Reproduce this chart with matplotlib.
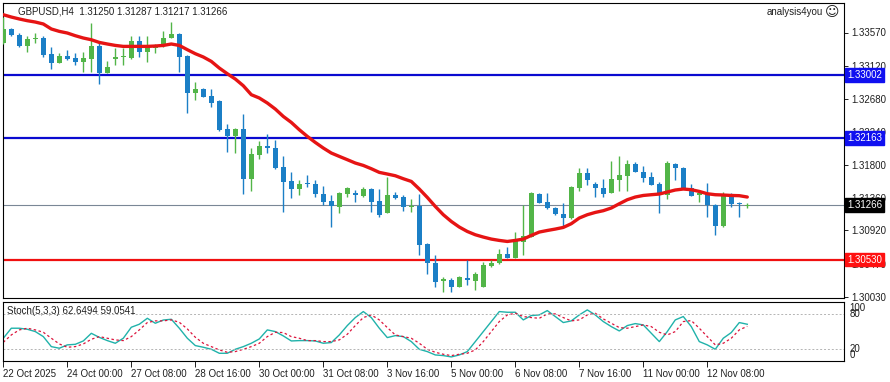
import numpy as np
import matplotlib
matplotlib.use("Agg")
import matplotlib.pyplot as plt
from matplotlib.transforms import blended_transform_factory

plt.rcParams['font.family'] = ['Liberation Sans', 'DejaVu Sans']

# GBPUSD H4 candles
opens = [1.33433, 1.33621, 1.33540, 1.33393, 1.33487, 1.33500, 1.33286, 1.33166, 1.33259, 1.33233,
         1.33179, 1.33219, 1.33393, 1.33032, 1.33219, 1.33240, 1.33233, 1.33460, 1.33313, 1.33366,
         1.33406, 1.33500, 1.33554, 1.33259, 1.32764, 1.32817, 1.32724, 1.32657, 1.32282, 1.32188,
         1.32282, 1.31612, 1.31934, 1.32054, 1.32027, 1.31773, 1.31585, 1.31478, 1.31559, 1.31545,
         1.31411, 1.31318, 1.31237, 1.31411, 1.31425, 1.31385, 1.31478, 1.31318, 1.31157, 1.31398,
         1.31371, 1.31237, 1.31251, 1.30742, 1.30487, 1.30247, 1.30260, 1.30166, 1.30287, 1.30247,
         1.30166, 1.30447, 1.30487, 1.30608, 1.30554, 1.30768, 1.30835, 1.31411, 1.31304, 1.31224,
         1.31144, 1.31090, 1.31492, 1.31693, 1.31545, 1.31492, 1.31425, 1.31599, 1.31652, 1.31813,
         1.31706, 1.31639, 1.31545, 1.31398, 1.31813, 1.31759, 1.31492, 1.31398, 1.31411, 1.31264,
         1.30983, 1.31398, 1.31291, 1.31250]
highs = [1.33781, 1.33634, 1.33567, 1.33527, 1.33567, 1.33527, 1.33380, 1.33299, 1.33339, 1.33299,
         1.33313, 1.33701, 1.33433, 1.33192, 1.33366, 1.33366, 1.33527, 1.33527, 1.33527, 1.33420,
         1.33594, 1.33714, 1.33560, 1.33265, 1.32911, 1.32822, 1.32817, 1.32662, 1.32349, 1.32288,
         1.32483, 1.32027, 1.32121, 1.32215, 1.32135, 1.31920, 1.31706, 1.31599, 1.31666, 1.31599,
         1.31518, 1.31398, 1.31438, 1.31505, 1.31465, 1.31505, 1.31485, 1.31478, 1.31639, 1.31438,
         1.31398, 1.31344, 1.31411, 1.30748, 1.30595, 1.30300, 1.30287, 1.30313, 1.30528, 1.30367,
         1.30501, 1.30528, 1.30675, 1.30702, 1.30902, 1.31264, 1.31438, 1.31425, 1.31425, 1.31237,
         1.31291, 1.31518, 1.31759, 1.31759, 1.31572, 1.31612, 1.31853, 1.31920, 1.31867, 1.31840,
         1.31786, 1.31706, 1.31572, 1.31853, 1.31818, 1.31765, 1.31545, 1.31430, 1.31559, 1.31277,
         1.31438, 1.31425, 1.31304, 1.31287]
lows = [1.33420, 1.33527, 1.33380, 1.33313, 1.33433, 1.33246, 1.33085, 1.33160, 1.33206, 1.33139,
        1.33045, 1.33045, 1.32884, 1.33025, 1.33139, 1.33139, 1.33219, 1.33246, 1.33179, 1.33299,
        1.33380, 1.33495, 1.33045, 1.32496, 1.32670, 1.32705, 1.32576, 1.32255, 1.31974, 1.31960,
        1.31411, 1.31452, 1.31880, 1.31960, 1.31746, 1.31171, 1.31358, 1.31398, 1.31505, 1.31371,
        1.31264, 1.30969, 1.31157, 1.31371, 1.31304, 1.31371, 1.31171, 1.31103, 1.31150, 1.31344,
        1.31184, 1.31171, 1.30595, 1.30340, 1.30166, 1.30099, 1.30099, 1.30160, 1.30193, 1.30126,
        1.30160, 1.30434, 1.30474, 1.30550, 1.30550, 1.30595, 1.30830, 1.31285, 1.31211, 1.31130,
        1.30969, 1.31077, 1.31452, 1.31532, 1.31371, 1.31371, 1.31420, 1.31452, 1.31452, 1.31700,
        1.31572, 1.31525, 1.31157, 1.31344, 1.31599, 1.31485, 1.31380, 1.31304, 1.31103, 1.30862,
        1.30969, 1.31237, 1.31103, 1.31217]
closes = [1.33621, 1.33540, 1.33393, 1.33487, 1.33500, 1.33273, 1.33166, 1.33259, 1.33219, 1.33179,
          1.33233, 1.33393, 1.33032, 1.33112, 1.33246, 1.33246, 1.33460, 1.33313, 1.33393, 1.33380,
          1.33500, 1.33554, 1.33246, 1.32764, 1.32817, 1.32710, 1.32630, 1.32268, 1.32188, 1.32282,
          1.31612, 1.31947, 1.32054, 1.32027, 1.31759, 1.31572, 1.31478, 1.31545, 1.31545, 1.31411,
          1.31304, 1.31251, 1.31425, 1.31492, 1.31398, 1.31478, 1.31304, 1.31130, 1.31398, 1.31358,
          1.31237, 1.31251, 1.30728, 1.30487, 1.30233, 1.30273, 1.30166, 1.30300, 1.30260, 1.30340,
          1.30461, 1.30487, 1.30608, 1.30554, 1.30795, 1.30849, 1.31425, 1.31291, 1.31224, 1.31144,
          1.31090, 1.31505, 1.31693, 1.31599, 1.31492, 1.31411, 1.31612, 1.31666, 1.31813, 1.31706,
          1.31626, 1.31532, 1.31411, 1.31826, 1.31759, 1.31492, 1.31385, 1.31425, 1.31264, 1.30983,
          1.31398, 1.31277, 1.31277, 1.31266]

# red moving average
ma_vals = [1.33808, 1.33777, 1.33751, 1.33728, 1.33710, 1.33684, 1.33617, 1.33585, 1.33563, 1.33527,
           1.33496, 1.33473, 1.33437, 1.33416, 1.33397, 1.33384, 1.33384, 1.33384, 1.33384, 1.33389,
           1.33397, 1.33416, 1.33397, 1.33340, 1.33286, 1.33242, 1.33183, 1.33094, 1.33018, 1.32947,
           1.32857, 1.32737, 1.32693, 1.32626, 1.32545, 1.32446, 1.32366, 1.32268, 1.32179, 1.32098,
           1.32023, 1.31956, 1.31911, 1.31867, 1.31822, 1.31790, 1.31746, 1.31697, 1.31675, 1.31652,
           1.31612, 1.31576, 1.31474, 1.31362, 1.31241, 1.31130, 1.31040, 1.30965, 1.30906, 1.30862,
           1.30831, 1.30804, 1.30786, 1.30772, 1.30786, 1.30804, 1.30853, 1.30898, 1.30919, 1.30938,
           1.30960, 1.31010, 1.31086, 1.31130, 1.31161, 1.31184, 1.31220, 1.31277, 1.31331, 1.31367,
           1.31388, 1.31398, 1.31407, 1.31434, 1.31461, 1.31474, 1.31465, 1.31442, 1.31411, 1.31398,
           1.31394, 1.31388, 1.31385, 1.31367]

# Stoch(5,3,3)
stoch_k = [38.5, 55.8, 55.8, 54.0, 50.0, 41.3, 24.0, 21.2, 27.0, 28.0,
           33.8, 47.0, 40.0, 34.4, 29.8, 38.5, 57.5, 62.7, 73.0, 64.4,
           70.0, 71.3, 55.8, 38.5, 25.8, 22.9, 19.4, 12.5, 12.5, 19.4,
           24.0, 29.8, 37.3, 52.9, 50.0, 42.5, 33.8, 34.4, 34.4, 33.8,
           29.8, 31.0, 44.2, 60.4, 74.2, 84.6, 74.2, 55.8, 39.6, 43.0,
           41.3, 32.7, 19.4, 15.4, 9.6, 8.5, 6.2, 9.6, 15.4, 32.7,
           50.0, 67.3, 84.6, 83.4, 83.4, 70.2, 77.7, 78.8, 86.3, 76.0,
           65.6, 68.5, 78.8, 87.5, 78.8, 67.3, 58.6, 51.1, 60.4, 63.8,
           61.5, 47.1, 32.7, 50.0, 70.2, 76.0, 58.6, 32.7, 27.0, 19.4,
           38.5, 48.3, 65.6, 62.6494]
stoch_d = [31.5, 44.2, 52.9, 55.8, 52.9, 48.8, 38.5, 28.6, 22.9, 24.0,
           28.6, 36.7, 41.3, 38.5, 35.6, 34.4, 41.3, 52.9, 65.6, 68.5,
           68.5, 70.2, 66.1, 54.6, 40.2, 29.8, 24.0, 18.3, 14.2, 15.4,
           19.4, 24.0, 29.8, 41.3, 48.8, 48.3, 41.3, 38.5, 34.4, 34.4,
           32.7, 32.7, 35.6, 45.4, 60.4, 74.2, 78.8, 70.2, 56.9, 44.2,
           41.3, 38.5, 29.8, 19.4, 14.2, 10.8, 8.5, 10.8, 12.5, 18.3,
           32.7, 50.0, 67.3, 78.8, 81.7, 76.0, 74.2, 73.0, 80.6, 80.6,
           74.2, 68.5, 70.2, 78.8, 81.7, 71.9, 64.4, 56.9, 55.8, 58.6,
           61.5, 58.6, 48.8, 44.2, 50.0, 67.3, 69.0, 55.8, 41.3, 27.0,
           29.8, 38.5, 52.9, 59.0541]

time_labels = ["22 Oct 2025", "24 Oct 00:00", "27 Oct 08:00", "28 Oct 16:00", "30 Oct 00:00",
               "31 Oct 08:00", "3 Nov 16:00", "5 Nov 00:00", "6 Nov 08:00", "7 Nov 16:00",
               "11 Nov 00:00", "12 Nov 08:00"]
time_idx = [0, 8, 16, 24, 32, 40, 48, 56, 64, 72, 80, 88]
price_ticks = [1.33570, 1.33120, 1.32680, 1.32240, 1.31800, 1.31360, 1.30920, 1.30470, 1.30030]
resistance = [1.33002, 1.32163]
support = 1.30530

bull_col = '#52b548'
bear_col = '#1b7fc6'
blue_col = '#0a0ad0'
red_col = '#f01010'

fig = plt.figure(figsize=(8.9, 3.82), dpi=100)
ax = fig.add_axes([3 / 890, 84 / 382, 841 / 890, 295 / 382])
ax2 = fig.add_axes([3 / 890, 21.5 / 382, 841 / 890, 59 / 382])

x = np.arange(len(opens))
o, h, l, c = map(np.array, (opens, highs, lows, closes))
cols = np.where(c >= o, bull_col, bear_col)
ax.vlines(x, l, h, colors=cols, lw=1.0, zorder=3)
body = np.maximum(np.abs(c - o), 0.0001)
ax.bar(x, body, bottom=np.minimum(o, c), width=0.62, color=cols, linewidth=0, zorder=3)

ax.plot(x, ma_vals, color='#e61414', lw=2.4, solid_capstyle='round', zorder=4)

for lv in resistance:
    ax.axhline(lv, color=blue_col, lw=1.6, zorder=2)
ax.axhline(support, color=red_col, lw=1.6, zorder=2)
ax.axhline(closes[-1], color='#7a8796', lw=0.8, zorder=1)

ax.set_xlim(-0.04, 105.09)
ax.set_ylim(1.30015, 1.33965)
ax.tick_params(axis='x', bottom=False, labelbottom=False)
ax.yaxis.tick_right()
ax.set_yticks(price_ticks)
ax.set_yticklabels([f"{p:.5f}" for p in price_ticks])
ax.tick_params(axis='y', length=3, width=0.7, labelsize=7, pad=2, colors='#202020')
for sp in ax.spines.values():
    sp.set_linewidth(0.8)

# coloured price tags on the right scale
tr = blended_transform_factory(ax.transAxes, ax.transData)
tags = [(resistance[0], '#1010f0'), (resistance[1], '#1010f0'),
        (closes[-1], '#000000'), (support, '#ff1010')]
for lv, fc in tags:
    ax.text(1.004, lv, f"{lv:.5f}", transform=tr, ha='left', va='center', fontsize=7,
            color='white', zorder=6, clip_on=False,
            bbox=dict(boxstyle='square,pad=0.2', fc=fc, ec=fc))

fig.text(18 / 890, 1 - 11 / 382, "GBPUSD,H4  1.31250 1.31287 1.31217 1.31266",
         fontsize=7, va='center', ha='left', color='#202020')
fig.text(823 / 890, 1 - 12 / 382, "analysis4you", fontsize=7, va='center', ha='right',
         color='#202020')
fig.text(839 / 890, 1 - 12 / 382, "\u263a", fontsize=10, va='center', ha='right',
         color='#202020', family=['DejaVu Sans'])

# stochastic panel
ax2.plot(x, stoch_k, color='#20b2aa', lw=1.0)
ax2.plot(x, stoch_d, color='#dc143c', lw=0.9, dashes=(2, 2))
for lv in (80, 20):
    ax2.axhline(lv, color='#b4b4b4', lw=0.7, dashes=(2, 2))
ax2.set_xlim(-0.04, 105.09)
ax2.set_ylim(0, 102)
ax2.yaxis.tick_right()
ax2.set_yticks([100, 80, 20, 0])
ax2.set_yticklabels(['100', '80', '20', '0'])
ax2.tick_params(axis='y', length=0, labelsize=7, pad=4, colors='#202020')
for lab, va in zip(ax2.get_yticklabels(), ['top', 'center', 'center', 'bottom']):
    lab.set_verticalalignment(va)
ax2.set_xticks(time_idx)
ax2.set_xticklabels(time_labels, ha='left')
ax2.tick_params(axis='x', length=4, width=0.7, labelsize=7, pad=2, colors='#202020')
for sp in ax2.spines.values():
    sp.set_linewidth(0.8)
fig.text(7 / 890, 1 - 311 / 382, "Stoch(5,3,3) 62.6494 59.0541", fontsize=7,
         va='center', ha='left', color='#202020')

fig.savefig("out.png", dpi=100)
